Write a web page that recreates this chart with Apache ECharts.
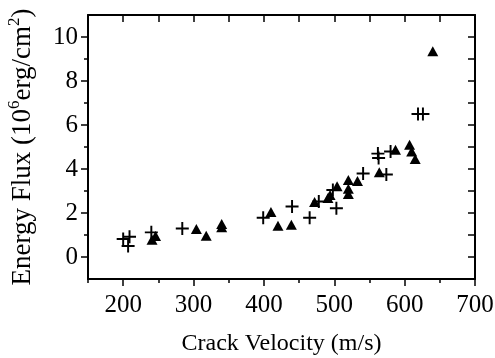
<!DOCTYPE html>
<html>
<head>
<meta charset="utf-8">
<script src="https://cdn.jsdelivr.net/npm/echarts@6/dist/echarts.min.js"></script>
<style>
  html, body { margin: 0; padding: 0; background: #fff; }
  #chart { width: 495px; height: 358px; }
</style>
</head>
<body>
<div id="chart"></div>
<script>
// Crack velocity (m/s) vs energy flux (10^6 erg/cm^2)
const plusX = [200, 209, 207, 240, 284, 399, 440, 465, 478, 498, 503, 541, 562, 563, 574, 580, 619, 626];
const plusY = [0.82, 0.92, 0.5, 1.12, 1.3, 1.78, 2.3, 1.78, 2.52, 3.05, 2.22, 3.8, 4.7, 4.5, 3.75, 4.8, 6.5, 6.5];

const triX = [241, 246, 304, 318, 340, 340, 410, 420, 439, 472, 491, 494, 504, 520, 520, 520, 533, 564, 587, 607, 610, 615, 640];
const triY = [0.78, 0.95, 1.27, 0.97, 1.35, 1.5, 2.05, 1.42, 1.47, 2.5, 2.68, 2.82, 3.22, 3.5, 3.1, 2.86, 3.45, 3.85, 4.88, 5.1, 4.8, 4.45, 9.35];

// tick positions
const xMajor = [200, 300, 400, 500, 600, 700];
const xMinor = [150, 250, 350, 450, 550, 650];
const xTop = [150, 200, 250, 300, 350, 400, 450, 500, 550, 600, 650, 700];
const yMajor = [0, 2, 4, 6, 8, 10];
const yMinor = [1, 3, 5, 7, 9];
const yRight = [0, 1, 2, 3, 4, 5, 6, 7, 8, 9, 10];

const FONT = '"Liberation Serif", "DejaVu Serif", serif';
const INK = '#000';
const plusPath = 'path://M0,5.1H12V6.9H0Z M5.1,0H6.9V12H5.1Z';

const chart = echarts.init(document.getElementById('chart'));

const pair = (xs, ys) => xs.map((x, i) => [x, ys[i]]);

const lineStyle = { color: INK, width: 2 };

const option = {
  animation: false,
  backgroundColor: '#fff',
  grid: { left: 88, right: 20, top: 15, bottom: 79, containLabel: false, outerBoundsMode: 'none' },
  xAxis: [
    {
      type: 'value', position: 'bottom', min: 150, max: 700,
      axisLine: { show: true, onZero: false, lineStyle },
      axisTick: { show: true, inside: false, length: 7, customValues: xMajor, lineStyle: { color: INK, width: 1.5 } },
      axisLabel: { customValues: xMajor, fontFamily: FONT, fontSize: 25, color: INK, margin: 14 },
      splitLine: { show: false },
      name: 'Crack Velocity (m/s)', nameLocation: 'middle', nameGap: 53,
      nameTextStyle: { fontFamily: FONT, fontSize: 24, color: INK }
    },
    {
      type: 'value', position: 'bottom', min: 150, max: 700,
      axisLine: { show: false, onZero: false },
      axisTick: { show: true, inside: false, length: 4, customValues: xMinor, lineStyle: { color: INK, width: 1.5 } },
      axisLabel: { show: false },
      splitLine: { show: false }
    },
    {
      type: 'value', position: 'top', min: 150, max: 700,
      axisLine: { show: true, onZero: false, lineStyle },
      axisTick: { show: true, inside: true, length: 7, customValues: xTop, lineStyle: { color: INK, width: 1.5 } },
      axisLabel: { show: false },
      splitLine: { show: false }
    }
  ],
  yAxis: [
    {
      type: 'value', position: 'left', min: -1, max: 11,
      axisLine: { show: true, onZero: false, lineStyle },
      axisTick: { show: true, inside: false, length: 7, customValues: yMajor, lineStyle: { color: INK, width: 1.5 } },
      axisLabel: { customValues: yMajor, fontFamily: FONT, fontSize: 25, color: INK, margin: 10 },
      splitLine: { show: false },
      name: '{a|Energy Flux (10}{s|6}{a|erg/cm}{s|2}{a|)}',
      nameLocation: 'middle', nameGap: 52, nameRotate: 90,
      nameTextStyle: {
        fontFamily: FONT, color: INK,
        rich: {
          a: { fontFamily: FONT, fontSize: 27, color: INK, lineHeight: 30, verticalAlign: 'bottom' },
          s: { fontFamily: FONT, fontSize: 17, color: INK, lineHeight: 30, verticalAlign: 'top' }
        }
      }
    },
    {
      type: 'value', position: 'left', min: -1, max: 11,
      axisLine: { show: false, onZero: false },
      axisTick: { show: true, inside: false, length: 4, customValues: yMinor, lineStyle: { color: INK, width: 1.5 } },
      axisLabel: { show: false },
      splitLine: { show: false }
    },
    {
      type: 'value', position: 'right', min: -1, max: 11,
      axisLine: { show: true, onZero: false, lineStyle },
      axisTick: { show: true, inside: true, length: 7, customValues: yRight, lineStyle: { color: INK, width: 1.5 } },
      axisLabel: { show: false },
      splitLine: { show: false }
    }
  ],
  series: [
    {
      name: 'plus', type: 'scatter', xAxisIndex: 0, yAxisIndex: 0,
      symbol: plusPath, symbolSize: 13,
      itemStyle: { color: INK, opacity: 1 },
      data: pair(plusX, plusY)
    },
    {
      name: 'triangle', type: 'scatter', xAxisIndex: 0, yAxisIndex: 0,
      symbol: 'triangle', symbolSize: [11, 10],
      itemStyle: { color: INK, opacity: 1 },
      data: pair(triX, triY)
    }
  ]
};

chart.setOption(option);
</script>
</body>
</html>
